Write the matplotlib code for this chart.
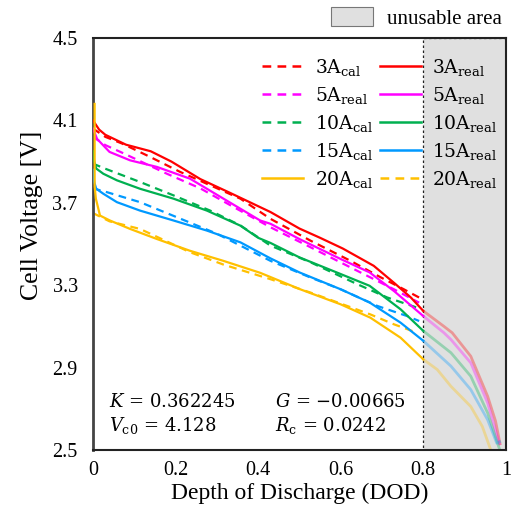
import matplotlib
matplotlib.use("Agg")
import matplotlib.pyplot as plt
from matplotlib.lines import Line2D
from matplotlib.patches import Patch

plt.rcParams['font.family'] = ['Liberation Serif', 'DejaVu Serif']

red_real_x = [0.0, 0.005, 0.015, 0.03, 0.08, 0.14, 0.19, 0.26, 0.33, 0.43, 0.50, 0.55, 0.605, 0.68, 0.73, 0.77, 0.80]
red_real_y = [4.10, 4.085, 4.055, 4.03, 3.982, 3.95, 3.90, 3.815, 3.75, 3.655, 3.575, 3.53, 3.478, 3.394, 3.31, 3.24, 3.175]
red_fade_x = [0.80, 0.85, 0.87, 0.915, 0.956, 0.975, 0.986]
red_fade_y = [3.175, 3.10, 3.069, 2.955, 2.76, 2.64, 2.53]

mag_real_x = [0.0, 0.01, 0.04, 0.09, 0.155, 0.235, 0.316, 0.405, 0.43, 0.50, 0.60, 0.67, 0.73, 0.80]
mag_real_y = [4.06, 4.01, 3.947, 3.906, 3.874, 3.817, 3.72, 3.614, 3.598, 3.524, 3.427, 3.362, 3.27, 3.15]
mag_fade_x = [0.80, 0.85, 0.867, 0.915, 0.956, 0.984]
mag_fade_y = [3.15, 3.069, 3.036, 2.923, 2.728, 2.53]

grn_real_x = [0.0, 0.003, 0.008, 0.025, 0.058, 0.114, 0.195, 0.276, 0.357, 0.40, 0.43, 0.50, 0.60, 0.67, 0.745, 0.80]
grn_real_y = [3.95, 3.90, 3.866, 3.841, 3.809, 3.768, 3.72, 3.662, 3.589, 3.53, 3.505, 3.435, 3.354, 3.297, 3.183, 3.078]
grn_fade_x = [0.80, 0.867, 0.915, 0.956, 0.984]
grn_fade_y = [3.078, 2.972, 2.858, 2.679, 2.508]

blu_real_x = [0.0, 0.003, 0.008, 0.025, 0.058, 0.114, 0.195, 0.276, 0.357, 0.43, 0.50, 0.60, 0.67, 0.745, 0.80]
blu_real_y = [3.86, 3.80, 3.768, 3.744, 3.703, 3.662, 3.614, 3.565, 3.508, 3.43, 3.362, 3.28, 3.216, 3.118, 3.03]
blu_fade_x = [0.80, 0.867, 0.915, 0.956, 0.978, 0.985]
blu_fade_y = [3.03, 2.907, 2.793, 2.646, 2.533, 2.54]

yel_real_x = [0.004, 0.004, 0.007, 0.017, 0.041, 0.09, 0.155, 0.235, 0.316, 0.405, 0.502, 0.60, 0.672, 0.745, 0.80]
yel_real_y = [4.18, 3.78, 3.72, 3.638, 3.614, 3.573, 3.524, 3.467, 3.418, 3.36, 3.28, 3.207, 3.142, 3.045, 2.94]
yel_fade_x = [0.80, 0.834, 0.867, 0.915, 0.943, 0.962]
yel_fade_y = [2.94, 2.89, 2.809, 2.711, 2.614, 2.508]

# calculated (model) curves
red_cal_x = [0.0, 0.03, 0.07, 0.138, 0.211, 0.284, 0.357, 0.43, 0.527, 0.624, 0.697, 0.753, 0.79]
red_cal_y = [4.06, 4.02, 3.988, 3.923, 3.85, 3.785, 3.72, 3.622, 3.516, 3.418, 3.338, 3.28, 3.24]
mag_cal_x = [0.0, 0.03, 0.074, 0.179, 0.26, 0.34, 0.43, 0.527, 0.624, 0.729, 0.79]
mag_cal_y = [4.02, 3.98, 3.94, 3.841, 3.77, 3.68, 3.581, 3.484, 3.386, 3.28, 3.215]
grn_cal_x = [0.0, 0.029, 0.114, 0.195, 0.284, 0.357, 0.43, 0.527, 0.64, 0.713, 0.785]
grn_cal_y = [3.89, 3.866, 3.801, 3.736, 3.662, 3.59, 3.492, 3.411, 3.305, 3.24, 3.191]
blu_cal_x = [0.0, 0.033, 0.114, 0.203, 0.30, 0.43, 0.527, 0.60, 0.689, 0.761, 0.79]
blu_cal_y = [3.77, 3.752, 3.703, 3.63, 3.55, 3.418, 3.337, 3.28, 3.199, 3.15, 3.126]
yel_cal_x = [0.0, 0.04, 0.114, 0.235, 0.316, 0.43, 0.527, 0.672, 0.729, 0.785]
yel_cal_y = [3.65, 3.61, 3.573, 3.46, 3.40, 3.329, 3.264, 3.158, 3.11, 3.069]

colors = ['#ff0000', '#ff00ff', '#00b050', '#0099ff', '#ffc000']
real_x = [red_real_x, mag_real_x, grn_real_x, blu_real_x, yel_real_x]
real_y = [red_real_y, mag_real_y, grn_real_y, blu_real_y, yel_real_y]
fade_x = [red_fade_x, mag_fade_x, grn_fade_x, blu_fade_x, yel_fade_x]
fade_y = [red_fade_y, mag_fade_y, grn_fade_y, blu_fade_y, yel_fade_y]
cal_x = [red_cal_x, mag_cal_x, grn_cal_x, blu_cal_x, yel_cal_x]
cal_y = [red_cal_y, mag_cal_y, grn_cal_y, blu_cal_y, yel_cal_y]

left_labels = ['3A$_\\mathregular{cal}$', '5A$_\\mathregular{real}$', '10A$_\\mathregular{cal}$',
               '15A$_\\mathregular{cal}$', '20A$_\\mathregular{cal}$']
right_labels = ['3A$_\\mathregular{real}$', '5A$_\\mathregular{real}$', '10A$_\\mathregular{real}$',
                '15A$_\\mathregular{real}$', '20A$_\\mathregular{real}$']

xticks = [0, 0.2, 0.4, 0.6, 0.8, 1]
xtick_labels = ['0', '0.2', '0.4', '0.6', '0.8', '1']
yticks = [2.5, 2.9, 3.3, 3.7, 4.1, 4.5]

dash = (0, (3.5, 2.5))

fig = plt.figure(figsize=(5.12, 5.19), dpi=100)
ax = fig.add_axes([0.1816, 0.133, 0.8064, 0.7938])

ax.axvspan(0.8, 1.0, facecolor='#e0e0e0', edgecolor='#222222', linestyle=(0, (2, 2)), lw=0.9, zorder=0)

for i, c in enumerate(colors):
    ax.plot(fade_x[i], fade_y[i], color=c, lw=2.0, alpha=0.33, zorder=1)
    ax.plot(real_x[i], real_y[i], color=c, lw=1.6, zorder=3)
    ax.plot(cal_x[i], cal_y[i], color=c, lw=1.6, linestyle=dash, zorder=2)

ax.set_xlim(0, 1)
ax.set_ylim(2.5, 4.5)
ax.set_xticks(xticks)
ax.set_xticklabels(xtick_labels)
ax.set_yticks(yticks)
ax.tick_params(length=0, labelsize=14.5)
ax.tick_params(axis='y', pad=11)
ax.tick_params(axis='x', pad=8)
for s in ax.spines.values():
    s.set_linewidth(1.5)
    s.set_color('#222222')
ax.spines['left'].set_color('#444444')
ax.spines['left'].set_linewidth(2)

ax.set_xlabel('Depth of Discharge (DOD)', fontsize=17, labelpad=2)
ax.set_ylabel('Cell Voltage [V]', fontsize=18.5)
ax.yaxis.set_label_coords(-0.12, 0.57)

# legend: left column dashed except 20A, right column solid except 20A (as drawn)
left_styles = [dash, dash, dash, dash, '-']
right_styles = ['-', '-', '-', '-', dash]
handles = [Line2D([], [], color=c, lw=1.8, linestyle=s) for c, s in zip(colors, left_styles)]
handles += [Line2D([], [], color=c, lw=1.8, linestyle=s) for c, s in zip(colors, right_styles)]
leg = ax.legend(handles, left_labels + right_labels, ncol=2, loc='upper right',
                bbox_to_anchor=(1.02, 0.995), frameon=False, handlelength=2.2,
                handletextpad=0.6, columnspacing=0.35, labelspacing=0.37,
                prop={'family': 'DejaVu Serif', 'size': 13.5, 'math_fontfamily': 'dejavuserif'})

fig.legend([Patch(facecolor='#e0e0e0', edgecolor='#777777', lw=0.8)], ['unusable area'],
           loc='upper right', bbox_to_anchor=(1.016, 1.022), frameon=False,
           handlelength=2.0, handleheight=1.0, handletextpad=0.65,
           prop={'family': 'Liberation Serif', 'size': 15})

txt = dict(fontsize=13, family='DejaVu Serif', math_fontfamily='dejavuserif')
ax.text(0.04, 2.71, '$K$ = 0.362245', **txt)
ax.text(0.44, 2.71, '$G$ = \u22120.00665', **txt)
ax.text(0.04, 2.59, '$V_\\mathregular{c0}$ = 4.128', **txt)
ax.text(0.44, 2.59, '$R_\\mathregular{c}$ = 0.0242', **txt)

fig.savefig('out.png', dpi=100)
